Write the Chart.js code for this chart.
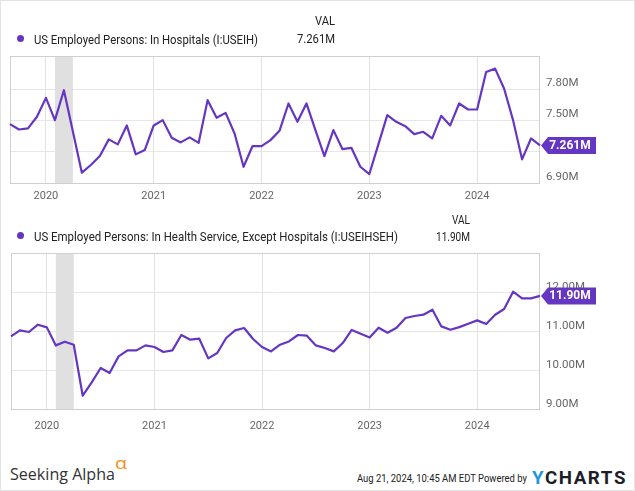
<!DOCTYPE html>
<html>
<head>
<meta charset="utf-8">
<script src="https://cdn.jsdelivr.net/npm/chart.js@4.4.1/dist/chart.umd.min.js"></script>
<style>
html,body{margin:0;padding:0;background:#fff;}
#wrap{position:relative;width:635px;height:491px;overflow:hidden;font-family:Roboto,sans-serif;background:#fff;}
#frame{position:absolute;left:0;top:0;width:633px;height:489px;border:1px solid #e3e3e3;}
canvas{position:absolute;left:0;}
.t{position:absolute;white-space:nowrap;line-height:1.2;transform-origin:0 0;}
.dot{position:absolute;width:7px;height:7px;border-radius:50%;}
</style>
</head>
<body>
<div id="wrap">
  <div id="frame"></div>
  <canvas id="c1" width="635" height="215" style="top:0"></canvas>
  <canvas id="c2" width="635" height="230" style="top:215px"></canvas>
</div>
<script>
// ---------- data ----------
const months = [
 '2019-09','2019-10','2019-11','2019-12',
 '2020-01','2020-02','2020-03','2020-04','2020-05','2020-06','2020-07','2020-08','2020-09','2020-10','2020-11','2020-12',
 '2021-01','2021-02','2021-03','2021-04','2021-05','2021-06','2021-07','2021-08','2021-09','2021-10','2021-11','2021-12',
 '2022-01','2022-02','2022-03','2022-04','2022-05','2022-06','2022-07','2022-08','2022-09','2022-10','2022-11','2022-12',
 '2023-01','2023-02','2023-03','2023-04','2023-05','2023-06','2023-07','2023-08','2023-09','2023-10','2023-11','2023-12',
 '2024-01','2024-02','2024-03','2024-04','2024-05','2024-06','2024-07','2024-08'
];
const yearLabels = ['2020','2021','2022','2023','2024'];
const recession = ['2020-02','2020-04'];

const hospitals = [
 7.466,7.414,7.424,7.536,
 7.718,7.504,7.791,7.395,6.999,7.073,7.159,7.319,7.271,7.453,7.175,7.216,
 7.453,7.504,7.334,7.290,7.338,7.286,7.696,7.526,7.574,7.376,7.056,7.255,
 7.255,7.312,7.401,7.664,7.488,7.664,7.408,7.159,7.408,7.226,7.238,7.056,
 6.986,7.269,7.552,7.488,7.446,7.370,7.392,7.328,7.545,7.453,7.664,7.606,
 7.606,7.967,7.999,7.808,7.504,7.127,7.328,7.261
];
const healthExHospitals = [
 10.862,11.015,10.974,11.162,
 11.093,10.631,10.726,10.649,9.341,9.682,10.051,9.923,10.349,10.503,10.503,10.631,
 10.590,10.462,10.503,10.897,10.777,10.803,10.297,10.436,10.821,11.015,11.077,10.795,
 10.590,10.477,10.649,10.733,10.897,10.880,10.631,10.564,10.477,10.692,11.026,10.931,
 10.836,11.085,10.956,11.085,11.333,11.385,11.418,11.546,11.118,11.033,11.100,11.187,
 11.272,11.179,11.418,11.564,12.008,11.836,11.836,11.900
];
const hospTicks = [6.9, 7.2, 7.5, 7.8];
const healthTicks = [9, 10, 11, 12];
const hospRange = [6.9, 8.12];
const healthRange = [9, 13];
const hospName = 'US Employed Persons: In Hospitals (I:USEIH)';
const healthName = 'US Employed Persons: In Health Service, Except Hospitals (I:USEIHSEH)';
const hospLast = '7.261M';
const healthLast = '11.90M';

// ---------- style ----------
const PURPLE = '#6536c2';
const GRID = '#e6e6e6';
const TICK = '#666666';

const areaPlugin = {
  id: 'area',
  beforeDatasetsDraw(chart) {
    const {ctx, chartArea: a, scales: {x}} = chart;
    const x0 = x.getPixelForValue(months.indexOf(recession[0]));
    const x1 = x.getPixelForValue(months.indexOf(recession[1]));
    ctx.save();
    ctx.fillStyle = '#e0e0e0';
    ctx.fillRect(x0, a.top, x1 - x0, a.bottom - a.top);
    ctx.strokeStyle = '#d0d0d0';
    ctx.lineWidth = 1;
    ctx.strokeRect(a.left + 0.5, a.top + 0.5, a.right - a.left - 1, a.bottom - a.top);
    ctx.restore();
  }
};

const badgePlugin = {
  id: 'badge',
  afterDraw(chart, args, opts) {
    const data = chart.data.datasets[0].data;
    const y = chart.scales.y.getPixelForValue(data[data.length - 1]);
    const x = chart.chartArea.right + 1;
    const ctx = chart.ctx;
    const h = 17, arrow = 7, bodyW = 48;
    ctx.save();
    ctx.fillStyle = PURPLE;
    ctx.beginPath();
    ctx.moveTo(x, y);
    ctx.lineTo(x + arrow, y - h / 2);
    ctx.lineTo(x + arrow + bodyW, y - h / 2);
    ctx.lineTo(x + arrow + bodyW, y + h / 2);
    ctx.lineTo(x + arrow, y + h / 2);
    ctx.closePath();
    ctx.fill();
    ctx.fillStyle = '#ffffff';
    ctx.font = 'bold 12px Roboto';
    ctx.textAlign = 'center';
    ctx.textBaseline = 'middle';
    ctx.fillText(opts.text, x + arrow + bodyW / 2 - 2, y + 0.5);
    ctx.restore();
  }
};

function makeChart(id, values, range, ticks, cfg) {
  return new Chart(document.getElementById(id), {
    type: 'line',
    data: {
      labels: months,
      datasets: [{
        data: values,
        borderColor: PURPLE,
        borderWidth: 2.2,
        pointRadius: 0,
        tension: 0,
        borderJoinStyle: 'round',
        fill: false
      }]
    },
    options: {
      responsive: false,
      animation: false,
      events: [],
      layout: {padding: {top: cfg.padTop, left: 10, right: 0, bottom: 0}},
      plugins: {legend: {display: false}, tooltip: {enabled: false}, badge: {text: cfg.badge}},
      scales: {
        x: {
          type: 'category',
          afterFit(s) { s.height = cfg.xHeight; },
          grid: {
            drawTicks: false,
            color: c => (months[c.index] && months[c.index].endsWith('-01')) ? '#e2e2e2' : 'rgba(0,0,0,0)'
          },
          border: {display: false},
          ticks: {
            autoSkip: false, maxRotation: 0, minRotation: 0,
            padding: cfg.xPad, color: TICK,
            font: {family: 'Roboto', size: 11},
            callback(v, i) {
              const m = months[i];
              const yr = m.slice(0, 4);
              return (m.endsWith('-01') && yearLabels.includes(yr)) ? yr : '';
            }
          }
        },
        y: {
          position: 'right',
          min: range[0], max: range[1],
          afterBuildTicks(s) { s.ticks = ticks.map(v => ({value: v})); },
          afterFit(s) { s.width = 95; },
          grid: {color: GRID, drawTicks: false},
          border: {display: false},
          ticks: {
            padding: 6, labelOffset: cfg.yOff, color: TICK,
            font: {family: 'Roboto', size: 11.5},
            callback: v => v.toFixed(2) + 'M'
          }
        }
      }
    },
    plugins: [areaPlugin, badgePlugin]
  });
}

makeChart('c1', hospitals, hospRange, hospTicks, {padTop: 56, xHeight: 32, xPad: 7, yOff: -6, badge: hospLast});
makeChart('c2', healthExHospitals, healthRange, healthTicks, {padTop: 38, xHeight: 36, xPad: 11, yOff: -5, badge: healthLast});

// ---------- text ----------
const wrap = document.getElementById('wrap');
function addText(txt, o) {
  const el = document.createElement('div');
  el.className = 't';
  if (o.html) el.innerHTML = o.html; else el.textContent = txt;
  el.style.font = `${o.weight || 'normal'} ${o.size}px ${o.family || 'Roboto'}`;
  el.style.color = o.color || '#333';
  if (o.ls) el.style.letterSpacing = o.ls + 'px';
  wrap.appendChild(el);
  const w = el.getBoundingClientRect().width;
  const s = o.width ? o.width / w : 1;
  const left = o.align === 'right' ? o.x - w * s : o.x;
  el.style.left = left + 'px';
  el.style.top = o.y + 'px';
  el.style.transform = `translateY(-50%) scaleX(${s})`;
  return el;
}
function addDot(x, y) {
  const d = document.createElement('div');
  d.className = 'dot';
  d.style.left = (x - 3.5) + 'px';
  d.style.top = (y - 3.5) + 'px';
  d.style.background = PURPLE;
  wrap.appendChild(d);
}

addDot(20, 38.5);
addText(hospName, {x: 34, y: 38.5, size: 13, width: 224, color: '#222'});
addText('VAL', {x: 335, y: 21, size: 12, width: 20, align: 'right', color: '#222'});
addText(hospLast, {x: 335, y: 38.5, size: 12, width: 38, align: 'right', color: '#222'});

addDot(20, 235.5);
addText(healthName, {x: 34, y: 235.5, size: 13, width: 364, color: '#222'});
addText('VAL', {x: 470, y: 220, size: 12, width: 18, align: 'right', color: '#222'});
addText(healthLast, {x: 470, y: 237, size: 12, width: 34, align: 'right', color: '#222'});

addText('Seeking Alpha', {x: 10, y: 473, size: 17, width: 105, family: '"Open Sans"', color: '#333'});
addText('α', {x: 115, y: 463, size: 16, width: 12, family: '"Open Sans"', color: '#f39020'});
addText('Aug 21, 2024, 10:45 AM EDT Powered by', {x: 357, y: 477.5, size: 11.5, width: 170, color: '#222'});
addText('YCHARTS', {x: 532, y: 477, size: 18, weight: 'bold', width: 95, ls: 1.5, color: '#1e1e2a',
  html: '<span style="color:#2596d8">Y</span>CHARTS'});
</script>
</body>
</html>
